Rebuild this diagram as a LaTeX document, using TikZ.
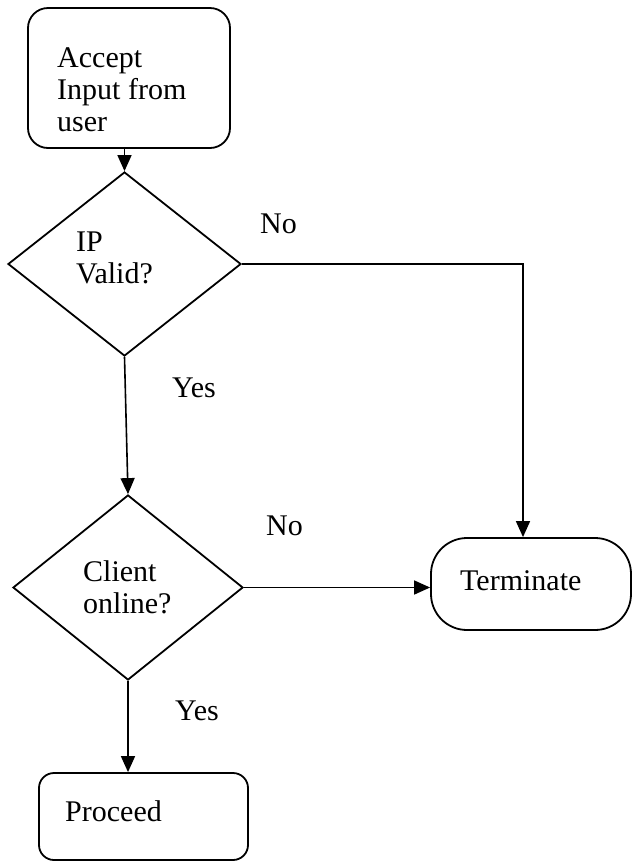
\documentclass[tikz,border=0pt]{standalone}
\usepackage{fontspec}
\setmainfont{Liberation Serif}
\usetikzlibrary{shapes.geometric,arrows.meta}
\begin{document}
\begin{tikzpicture}[x=1pt,y=-1pt,
  every node/.style={font=\fontsize{30}{32}\selectfont},
  procbox/.style={draw, line width=1.8pt, inner sep=0pt},
  decision/.style={draw, diamond, line width=1.8pt, inner sep=0pt},
  txt/.style={inner sep=0pt, align=left, anchor=north west},
  lbl/.style={inner sep=0pt, anchor=base west},
  flow/.style={line width=1.6pt, -{Triangle[length=16pt,width=14pt]}}
]
\useasboundingbox (0,0) rectangle (633,863);
% shapes
\node[procbox, rounded corners=20pt, minimum width=202pt, minimum height=140pt] (accept) at (129,78) {};
\node[decision, minimum width=233pt, minimum height=184pt] (d1) at (124.5,264) {};
\node[decision, minimum width=230pt, minimum height=185pt] (d2) at (128,587.5) {};
\node[procbox, rounded corners=36pt, minimum width=200pt, minimum height=92pt] (term) at (531,584) {};
\node[procbox, rounded corners=15pt, minimum width=209pt, minimum height=87pt] (proc) at (143.5,816.5) {};
% texts
\node[txt] (tacc) at (57,47) {Accept\\Input from\\user};
\node[txt] (tip) at (76,232) {IP\\Valid?};
\node[txt] (tcl) at (83,560) {Client\\online?};
\node[txt] (tterm) at (460,570) {Terminate};
\node[txt] (tproc) at (65,800) {Proceed};
% labels
\node[lbl] (no1) at (260,233) {No};
\node[lbl] (yes1) at (172,397) {Yes};
\node[lbl] (no2) at (266,535) {No};
\node[lbl] (yes2) at (175,720) {Yes};
% connectors
\draw[flow] (d1.north |- accept.south) -- (d1.north);
\draw[flow] (d1.south) -- (d2.north);
\draw[flow] (d2.south) -- (d2.south |- proc.north);
\draw[flow] (d1.east) -| ([xshift=-8pt]term.north);
\draw[flow] (d2.east) -- (d2.east -| term.west);
\end{tikzpicture}
\end{document}
